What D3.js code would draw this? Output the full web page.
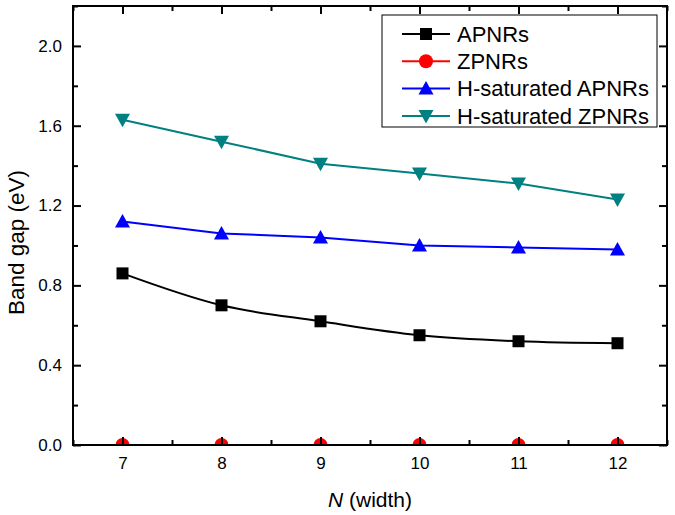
<!DOCTYPE html>
<html><head><meta charset="utf-8">
<script src="https://cdn.jsdelivr.net/npm/d3@7"></script>
<style>
body{margin:0;background:#fff;}
svg{display:block;font-family:"Liberation Sans",Arial,sans-serif;}
</style></head>
<body><svg id="c" width="675" height="515"></svg>
<script>
const widths = [7, 8, 9, 10, 11, 12];
const apnrs = [0.86, 0.70, 0.62, 0.55, 0.52, 0.51];
const zpnrs = [0, 0, 0, 0, 0, 0];
const hApnrs = [1.12, 1.06, 1.04, 1.00, 0.99, 0.98];
const hZpnrs = [1.63, 1.52, 1.41, 1.36, 1.31, 1.23];
const seriesNames = ["APNRs", "ZPNRs", "H-saturated APNRs", "H-saturated ZPNRs"];
const seriesColors = ["#000000", "#ff0000", "#0000ff", "#008080"];
const seriesShapes = ["square", "circle", "triangle", "triangleDown"];
const yTicks = [0.0, 0.4, 0.8, 1.2, 1.6, 2.0];
const yMinor = [0.2, 0.6, 1.0, 1.4, 1.8, 2.2];
const xMinor = [6.5, 7.5, 8.5, 9.5, 10.5, 11.5, 12.5];

const svg = d3.select("#c");
const L = 73, R = 667, T = 6, B = 445;
const x = d3.scaleLinear().domain([6.5, 12.5]).range([L, R]);
const y = d3.scaleLinear().domain([0, 2.2]).range([B, T]);

const allSeries = [apnrs, zpnrs, hApnrs, hZpnrs];

svg.append("defs").append("clipPath").attr("id", "clip")
  .append("rect").attr("x", L).attr("y", T).attr("width", R - L).attr("height", B - T);

function marker(sel, shape, color) {
  if (shape === "square") {
    sel.append("rect").attr("x", -6).attr("y", -6).attr("width", 12).attr("height", 12).attr("fill", color);
  } else if (shape === "circle") {
    sel.append("circle").attr("r", 7).attr("fill", color);
  } else if (shape === "triangle") {
    sel.append("path").attr("d", "M0,-7.5L7.5,6L-7.5,6Z").attr("fill", color);
  } else {
    sel.append("path").attr("d", "M0,7.5L7.5,-6L-7.5,-6Z").attr("fill", color);
  }
}

const plot = svg.append("g").attr("clip-path", "url(#clip)");
allSeries.forEach((vals, i) => {
  const pts = widths.map((w, j) => [w, vals[j]]);
  const line = d3.line().x(d => x(d[0])).y(d => y(d[1]))
    .curve(i === 0 ? d3.curveCatmullRom : d3.curveLinear);
  plot.append("path").attr("d", line(pts)).attr("fill", "none")
    .attr("stroke", seriesColors[i]).attr("stroke-width", 2);
  pts.forEach(p => {
    const g = plot.append("g").attr("transform", `translate(${x(p[0])},${y(p[1])})`);
    marker(g, seriesShapes[i], seriesColors[i]);
  });
});

// axes
const fs = 17;
svg.append("g").attr("transform", `translate(0,${B})`)
  .call(d3.axisBottom(x).tickValues(widths).tickSizeInner(-8).tickSizeOuter(0).tickPadding(12).tickFormat(d3.format("d")));
svg.append("g").attr("transform", `translate(0,${T})`)
  .call(d3.axisTop(x).tickValues(widths).tickSizeInner(-8).tickSizeOuter(0).tickFormat(""));
svg.append("g").attr("transform", `translate(${L},0)`)
  .call(d3.axisLeft(y).tickValues(yTicks).tickSizeInner(-8).tickSizeOuter(0).tickPadding(11).tickFormat(d3.format(".1f")));
svg.append("g").attr("transform", `translate(${R},0)`)
  .call(d3.axisRight(y).tickValues(yTicks).tickSizeInner(-8).tickSizeOuter(0).tickFormat(""));
svg.append("g").attr("transform", `translate(0,${B})`)
  .call(d3.axisBottom(x).tickValues(xMinor).tickSizeInner(-5).tickSizeOuter(0).tickFormat(""));
svg.append("g").attr("transform", `translate(0,${T})`)
  .call(d3.axisTop(x).tickValues(xMinor).tickSizeInner(-5).tickSizeOuter(0).tickFormat(""));
svg.append("g").attr("transform", `translate(${L},0)`)
  .call(d3.axisLeft(y).tickValues(yMinor).tickSizeInner(-5).tickSizeOuter(0).tickFormat(""));
svg.append("g").attr("transform", `translate(${R},0)`)
  .call(d3.axisRight(y).tickValues(yMinor).tickSizeInner(-5).tickSizeOuter(0).tickFormat(""));
svg.selectAll(".domain").remove();
svg.selectAll(".tick line").attr("stroke", "#000").attr("stroke-width", 2);
svg.selectAll(".tick text").attr("font-size", fs).attr("fill", "#000").attr("font-family", "Liberation Sans, Arial, sans-serif");

svg.append("rect").attr("x", L).attr("y", T).attr("width", R - L).attr("height", B - T)
  .attr("fill", "none").attr("stroke", "#000").attr("stroke-width", 2);

// axis titles
svg.append("text").attr("transform", `translate(24,${(T + B) / 2 + 17}) rotate(-90)`)
  .attr("text-anchor", "middle").attr("font-size", 22.5).text("Band gap (eV)");
const xt = svg.append("text").attr("x", (L + R) / 2).attr("y", 507)
  .attr("text-anchor", "middle").attr("font-size", 21);
xt.append("tspan").attr("font-style", "italic").text("N");
xt.append("tspan").text(" (width)");

// legend
const lg = svg.append("g");
lg.append("rect").attr("x", 382).attr("y", 15).attr("width", 275).attr("height", 112)
  .attr("fill", "#fff").attr("stroke", "#000").attr("stroke-width", 1);
seriesNames.forEach((n, i) => {
  const ly = 34 + i * 27.3;
  lg.append("line").attr("x1", 402).attr("x2", 450).attr("y1", ly).attr("y2", ly)
    .attr("stroke", seriesColors[i]).attr("stroke-width", 2);
  const g = lg.append("g").attr("transform", `translate(426,${ly})`);
  marker(g, seriesShapes[i], seriesColors[i]);
  lg.append("text").attr("x", 457).attr("y", ly + 7.8).attr("font-size", 22).text(n);
});
</script></body></html>
